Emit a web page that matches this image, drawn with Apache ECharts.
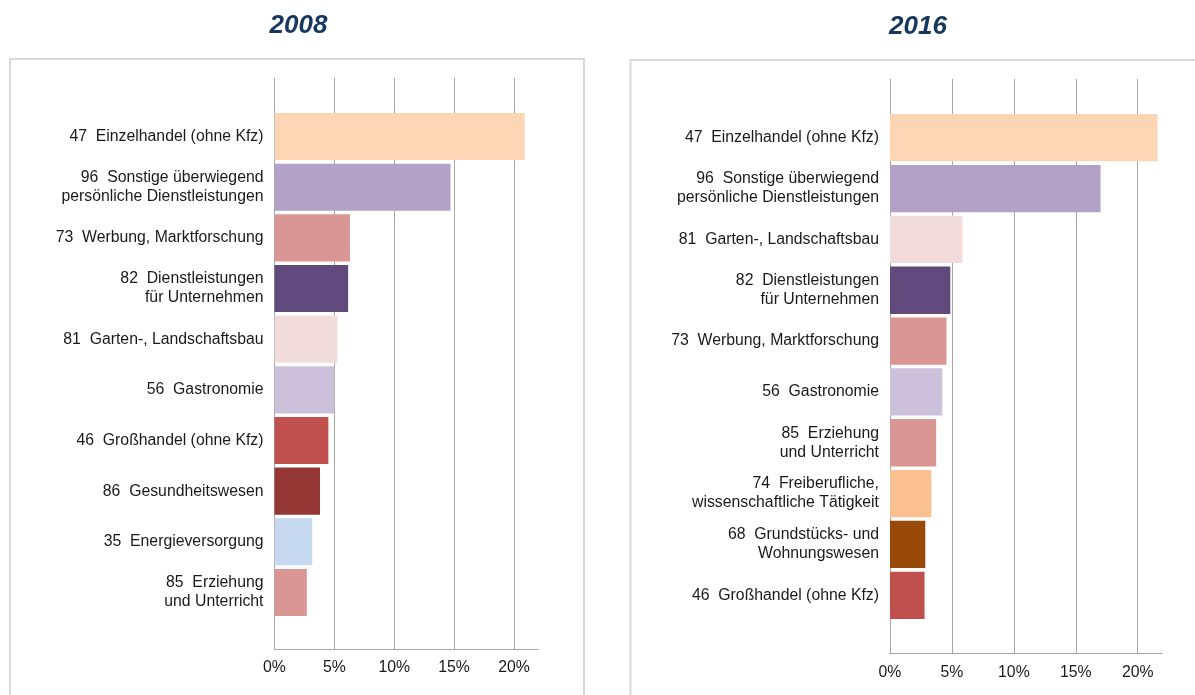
<!DOCTYPE html>
<html>
<head>
<meta charset="utf-8">
<script src="https://cdn.jsdelivr.net/npm/echarts@6/dist/echarts.min.js"></script>
<style>
  html, body { margin: 0; padding: 0; background: #fff; }
  #chart { width: 1195px; height: 695px; }
</style>
</head>
<body>
<div id="chart"></div>
<script>
// 2008
var labels2008 = [
  "47  Einzelhandel (ohne Kfz)",
  "96  Sonstige überwiegend\npersönliche Dienstleistungen",
  "73  Werbung, Marktforschung",
  "82  Dienstleistungen\nfür Unternehmen",
  "81  Garten-, Landschaftsbau",
  "56  Gastronomie",
  "46  Großhandel (ohne Kfz)",
  "86  Gesundheitswesen",
  "35  Energieversorgung",
  "85  Erziehung\nund Unterricht"
];
var values2008 = [20.9, 14.7, 6.3, 6.15, 5.25, 5.0, 4.5, 3.8, 3.15, 2.7];
var colors2008 = ["#FCD5B5", "#B3A2C7", "#D99694", "#604A7B", "#F2DCDB",
  "#CCC1DA", "#C0504D", "#953735", "#C6D9F1", "#D99694"];

// 2016
var labels2016 = [
  "47  Einzelhandel (ohne Kfz)",
  "96  Sonstige überwiegend\npersönliche Dienstleistungen",
  "81  Garten-, Landschaftsbau",
  "82  Dienstleistungen\nfür Unternehmen",
  "73  Werbung, Marktforschung",
  "56  Gastronomie",
  "85  Erziehung\nund Unterricht",
  "74  Freiberufliche,\nwissenschaftliche Tätigkeit",
  "68  Grundstücks- und\nWohnungswesen",
  "46  Großhandel (ohne Kfz)"
];
var values2016 = [21.6, 17.0, 5.85, 4.87, 4.56, 4.22, 3.73, 3.34, 2.85, 2.79];
var colors2016 = ["#FCD5B5", "#B3A2C7", "#F2DCDB", "#604A7B", "#D99694",
  "#CCC1DA", "#D99694", "#FAC090", "#984807", "#C0504D"];

var xMax = 22;
var xStep = 5;

var fontFam = '"Liberation Sans", Arial, sans-serif';
var gridColor = "#a6a6a6";
var textColor = "#1a1a1a";

function barData(vals, cols) {
  return vals.map(function (v, i) {
    return { value: v, itemStyle: { color: cols[i] } };
  });
}

// gitter-achse (mit linien) + balken-achse
function gridAxis(idx) {
  return {
    type: "value", gridIndex: idx, min: 0, max: xMax, interval: xStep,
    axisLine: { show: true, lineStyle: { color: gridColor, width: 1 } },
    axisTick: { show: false },
    splitLine: { show: true, showMaxLine: false, lineStyle: { color: gridColor, width: 1 } },
    axisLabel: {
      margin: 11, color: textColor, fontSize: 15.8, fontFamily: fontFam,
      showMaxLabel: false,
      formatter: function (v) { return v > 20 ? "" : v + "%"; }
    }
  };
}
function barAxis(idx) {
  return { type: "value", gridIndex: idx, min: 0, max: xMax, show: false };
}
function catAxis(idx, labels) {
  return {
    type: "category", gridIndex: idx, data: labels, inverse: true,
    axisLine: { show: false }, axisTick: { show: false },
    axisLabel: {
      margin: 11, color: textColor, fontSize: 15.8, lineHeight: 19, fontFamily: fontFam
    }
  };
}

var chart = echarts.init(document.getElementById("chart"));
chart.setOption({
  animation: false,
  backgroundColor: "#fff",
  graphic: [
    { type: "rect", z: -10, shape: { x: 10, y: 59, width: 574, height: 700 },
      style: { fill: "none", stroke: "#d9d9d9", lineWidth: 2 } },
    { type: "rect", z: -10, shape: { x: 630.5, y: 60, width: 600, height: 700 },
      style: { fill: "none", stroke: "#d9d9d9", lineWidth: 2 } },
    { type: "text", x: 298.5, y: 26,
      style: { text: "2008", align: "center", verticalAlign: "middle",
        font: 'italic bold 26px ' + fontFam, fill: "#17375E" } },
    { type: "text", x: 918, y: 27,
      style: { text: "2016", align: "center", verticalAlign: "middle",
        font: 'italic bold 26px ' + fontFam, fill: "#17375E" } }
  ],
  grid: [
    { left: 274.5, right: 657.1, top: 78, bottom: 46 },
    { left: 274.5, right: 657.1, top: 111.2, bottom: 77.2 },
    { left: 890, right: 32.5, top: 79, bottom: 41.7 },
    { left: 890, right: 32.5, top: 112.3, bottom: 74.3 }
  ],
  xAxis: [gridAxis(0), barAxis(1), gridAxis(2), barAxis(3)],
  yAxis: [
    { type: "value", gridIndex: 0, show: false },
    catAxis(1, labels2008),
    { type: "value", gridIndex: 2, show: false },
    catAxis(3, labels2016)
  ],
  series: [
    { type: "bar", xAxisIndex: 1, yAxisIndex: 1, barCategoryGap: "7%",
      data: barData(values2008, colors2008) },
    { type: "bar", xAxisIndex: 3, yAxisIndex: 3, barCategoryGap: "7%",
      data: barData(values2016, colors2016) }
  ]
});
</script>
</body>
</html>
